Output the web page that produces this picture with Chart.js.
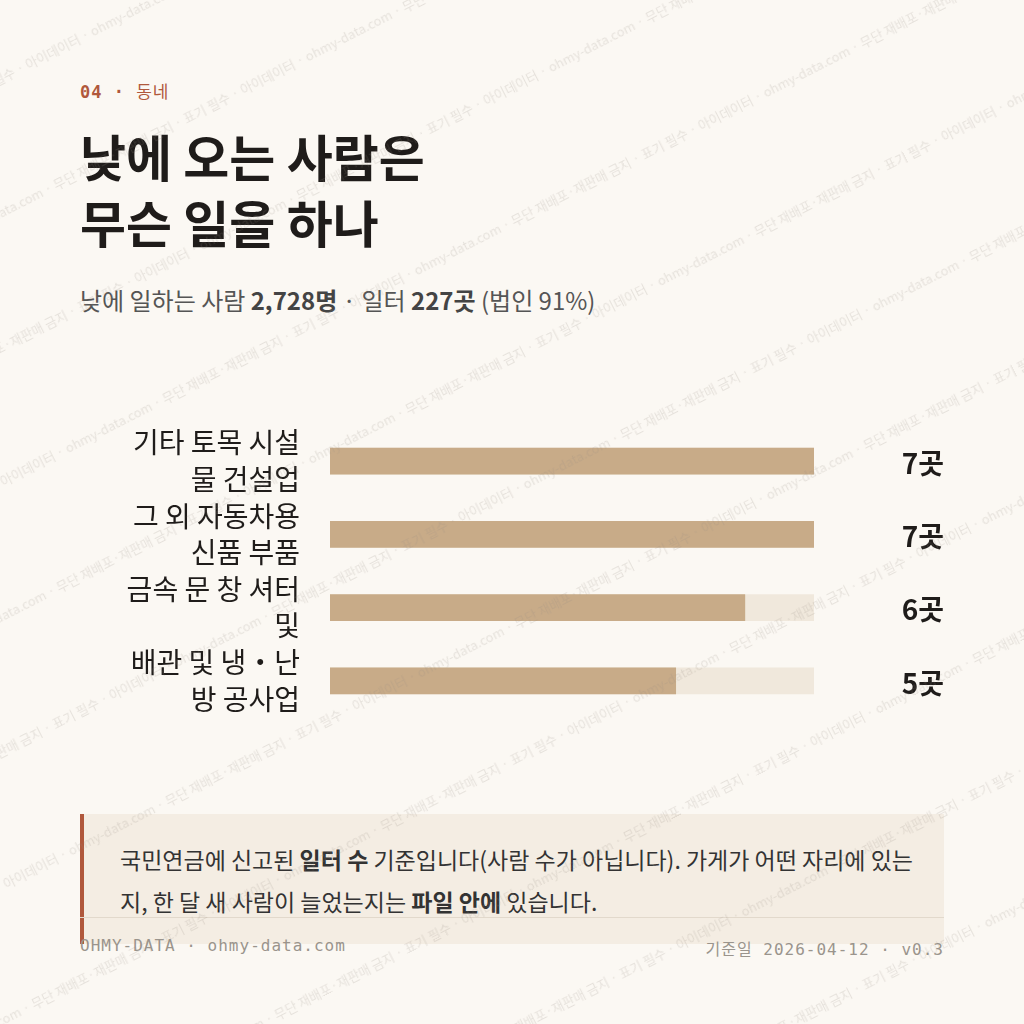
<!DOCTYPE html>
<html><head><meta charset="utf-8">
<script src="https://cdn.jsdelivr.net/npm/chart.js@4"></script>
<style>
body{margin:0;width:1024px;height:1024px;background:#fbf8f3;font-family:"Noto Sans CJK KR","Noto Sans",sans-serif;position:relative;overflow:hidden;color:#222}
.abs{position:absolute}
#kicker{left:80px;top:78px;font:bold 17px "DejaVu Sans Mono",monospace;color:#b0583c;letter-spacing:1px}
#title{left:80px;top:122px;font-size:50px;font-weight:700;line-height:66px;color:#1f1c1a}
#sub{left:80px;top:282px;font-size:24px;color:#555}
#sub b{color:#444}
#wrap{left:80px;top:366px;width:864px;height:410px}
#note{left:80px;top:814px;width:864px;height:130px;background:#f4ede3;border-left:4px solid #b0583c;box-sizing:border-box;padding:24px 30px 0 36px;font-size:23px;line-height:42px;color:#333}
#rule{left:80px;top:917px;width:864px;height:1px;background:#e2d9cc}
#foot{left:80px;top:936px;width:864px;font:16px "DejaVu Sans Mono",monospace;color:#9a948c;letter-spacing:1px;display:flex;justify-content:space-between}
#wm{left:-300px;top:-300px;width:1700px;height:1700px;transform:rotate(-27deg);pointer-events:none;font-size:13px;color:rgba(150,140,130,0.2);line-height:120px;white-space:nowrap}
</style></head><body>
<div class="abs" id="kicker">04 · <span style="font-family:'Noto Sans CJK KR';font-weight:400">동네</span></div>
<div class="abs" id="title">낮에 오는 사람은<br>무슨 일을 하나</div>
<div class="abs" id="sub">낮에 일하는 사람 <b>2,728명</b> · 일터 <b>227곳</b> (법인 91%)</div>
<div class="abs" id="wrap"><canvas id="c" width="864" height="410"></canvas></div>
<div class="abs" id="note">국민연금에 신고된 <b>일터 수</b> 기준입니다(사람 수가 아닙니다). 가게가 어떤 자리에 있는지, 한 달 새 사람이 늘었는지는 <b>파일 안에</b> 있습니다.</div>
<div class="abs" id="rule"></div>
<div class="abs" id="foot"><span>OHMY-DATA · ohmy-data.com</span><span><span style="font-family:'Noto Sans CJK KR'">기준일</span> 2026-04-12 · v0.3</span></div>
<div class="abs" id="wm"></div>
<script>
const categories = [["기타 토목 시설", "물 건설업"], ["그 외 자동차용", "신품 부품"], ["금속 문 창 셔터", "및"], ["배관 및 냉・난", "방 공사업"]];
const counts = [7, 7, 6, 5];
const maxCount = 7;
const valueLabels = ["7곳", "7곳", "6곳", "5곳"];

// 워터마크
const wm = document.getElementById("wm");
const phrase = "아이데이터 · ohmy-data.com · 무단 재배포·재판매 금지 · 표기 필수 · ";
for (let i = 0; i < 14; i++) {
  const d = document.createElement("div");
  d.style.marginLeft = (i % 2 ? -180 : 0) + "px";
  d.textContent = phrase.repeat(8);
  wm.appendChild(d);
}

const valuePlugin = {
  id: "values",
  afterDatasetsDraw(chart) {
    const ctx = chart.ctx;
    const meta = chart.getDatasetMeta(0);
    ctx.save();
    ctx.font = "bold 28px 'Noto Sans CJK KR'";
    ctx.fillStyle = "#1f1c1a";
    ctx.textAlign = "right";
    ctx.textBaseline = "middle";
    meta.data.forEach((bar, i) => ctx.fillText(valueLabels[i], chart.width, bar.y + 2));
    ctx.restore();
  }
};

new Chart(document.getElementById("c"), {
  type: "bar",
  data: {
    labels: categories,
    datasets: [
      { data: counts, backgroundColor: "#c8ab88", grouped: false, order: 1, barThickness: 26 },
      { data: counts.map(() => maxCount), backgroundColor: "#f0e8dc", grouped: false, order: 2, barThickness: 26 }
    ]
  },
  options: {
    indexAxis: "y",
    responsive: false,
    animation: false,
    maintainAspectRatio: false,
    layout: { padding: { right: 130, top: 0, bottom: 0 } },
    plugins: { legend: { display: false }, tooltip: { enabled: false } },
    scales: {
      x: { min: 0, max: maxCount, display: false },
      y: {
        grid: { display: false }, border: { display: false },
        afterFit: s => { s.width = 250; },
        ticks: { color: "#1f1c1a", padding: 22, font: { size: 28, family: "Noto Sans CJK KR", lineHeight: 1.3 } }
      }
    }
  },
  plugins: [valuePlugin]
});
</script>
</body></html>
